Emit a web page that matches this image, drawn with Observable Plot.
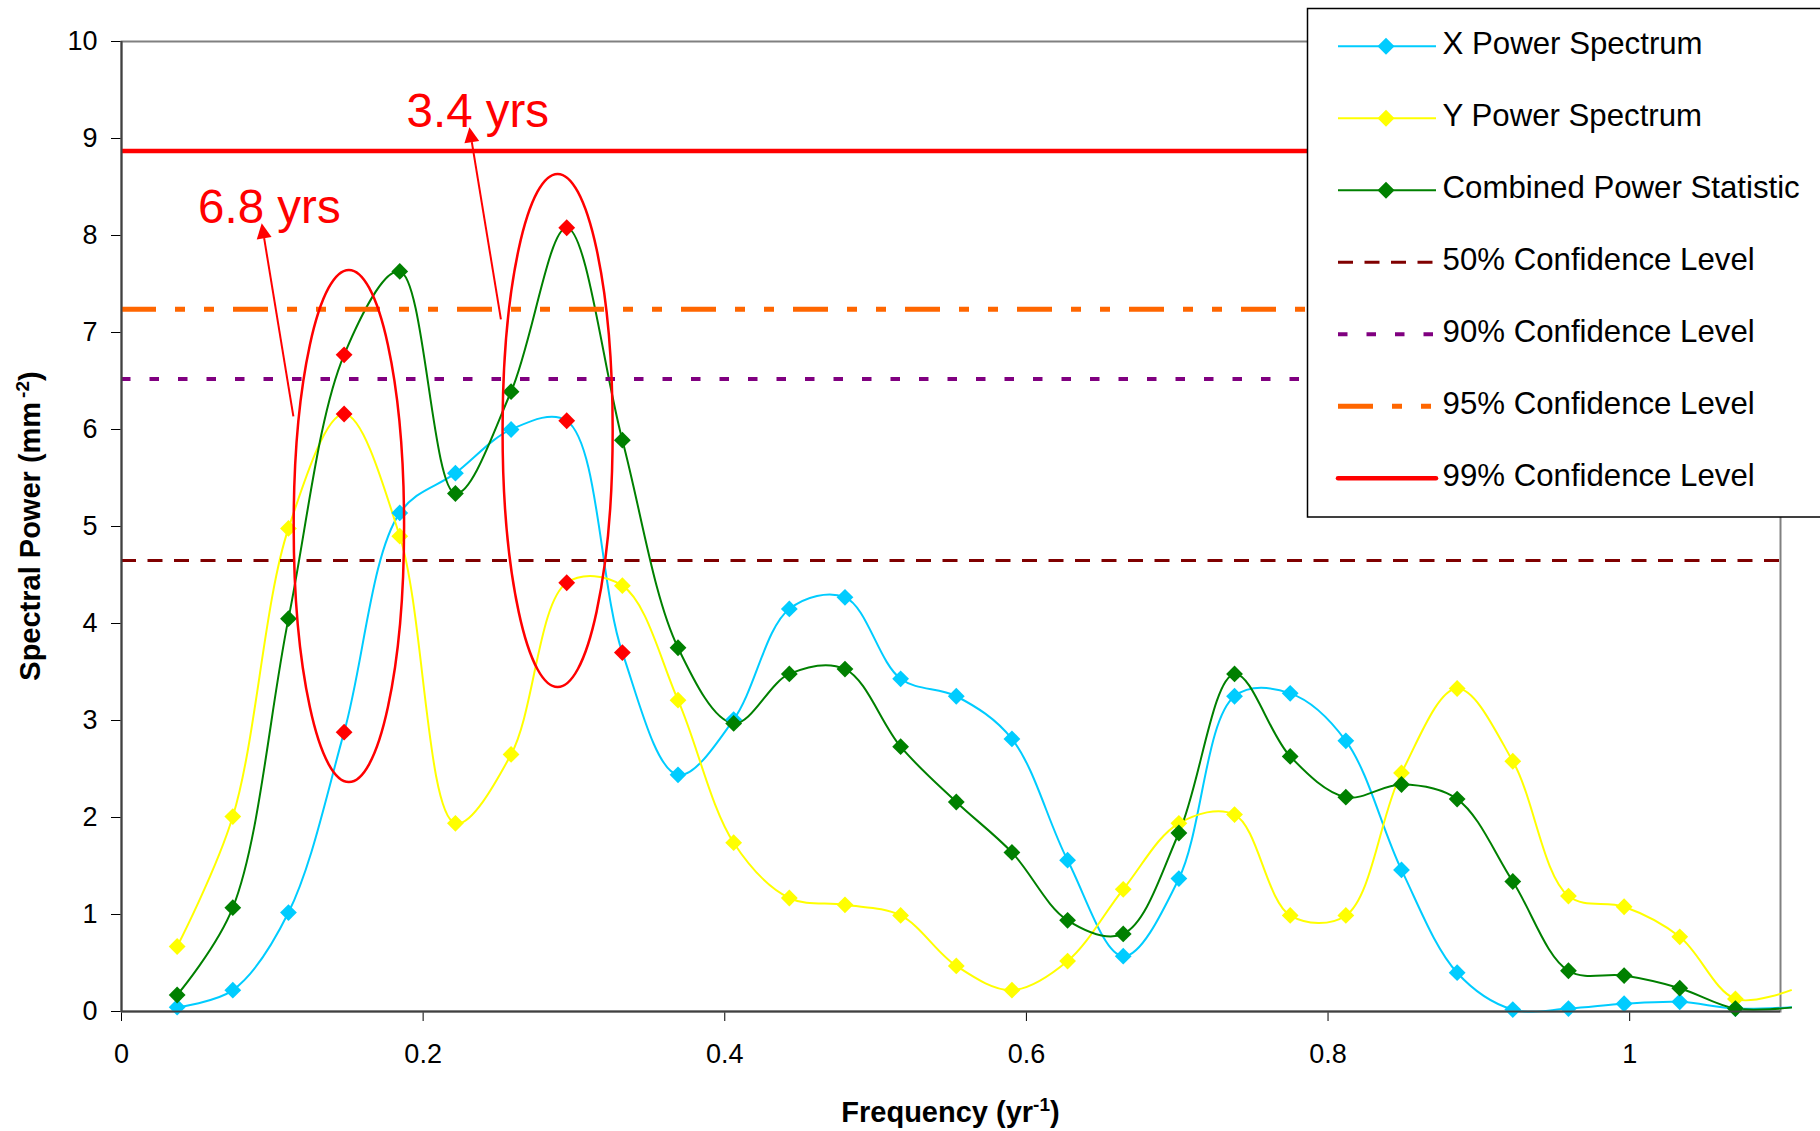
<!DOCTYPE html>
<html>
<head>
<meta charset="utf-8">
<script src="https://cdn.jsdelivr.net/npm/d3@7"></script>
<script src="https://cdn.jsdelivr.net/npm/@observablehq/plot@0.6"></script>
<style>
  html, body { margin: 0; padding: 0; background: #fff; }
  #chart svg { display: block; }
</style>
</head>
<body>
<div id="chart"></div>
<script>
// ---------- DATA ----------
const frequency = [0.0369, 0.0738, 0.1107, 0.1476, 0.1845, 0.2214, 0.2583, 0.2952, 0.3321, 0.3690,
                   0.4059, 0.4428, 0.4797, 0.5166, 0.5535, 0.5904, 0.6273, 0.6642, 0.7011, 0.7380,
                   0.7749, 0.8118, 0.8487, 0.8856, 0.9225, 0.9594, 0.9963, 1.0332, 1.0701, 1.1070];
const xPower   = [0.045, 0.22, 1.02, 2.88, 5.14, 5.55, 6.00, 6.09, 3.70, 2.44,
                  3.01, 4.15, 4.27, 3.43, 3.25, 2.81, 1.56, 0.57, 1.37, 3.25,
                  3.28, 2.79, 1.46, 0.40, 0.02, 0.03, 0.08, 0.10, 0.03, 0.045];
const yPower   = [0.67, 2.01, 4.98, 6.16, 4.90, 1.94, 2.65, 4.42, 4.39, 3.21,
                  1.74, 1.17, 1.10, 0.99, 0.47, 0.22, 0.52, 1.26, 1.94, 2.03,
                  0.99, 0.99, 2.46, 3.33, 2.58, 1.19, 1.08, 0.77, 0.13, 0.22];
const combined = [0.17, 1.07, 4.05, 6.77, 7.63, 5.34, 6.39, 8.08, 5.89, 3.75,
                  2.97, 3.48, 3.53, 2.73, 2.16, 1.64, 0.94, 0.80, 1.84, 3.48,
                  2.63, 2.21, 2.34, 2.19, 1.34, 0.42, 0.37, 0.24, 0.03, 0.04];
const seriesNames = ["X Power Spectrum", "Y Power Spectrum", "Combined Power Statistic"];
// points (1-based index) drawn with red markers
const highlightX = [4, 8, 9];
const highlightY = [4, 8];
const highlightC = [4, 8];

const confidenceNames  = ["50% Confidence Level", "90% Confidence Level", "95% Confidence Level", "99% Confidence Level"];
const confidenceValues = [4.65, 6.52, 7.24, 8.87];

const xTicks = [0, 0.2, 0.4, 0.6, 0.8, 1];
const xTickLabels = ["0", "0.2", "0.4", "0.6", "0.8", "1"];
const yTicks = [0, 1, 2, 3, 4, 5, 6, 7, 8, 9, 10];

const xTitle = "Frequency (yr";
const xTitleSup = "-1";
const yTitle = "Spectral Power (mm";
const yTitleSup = "-2";

// annotations
const labelText = ["6.8 yrs", "3.4 yrs"];
const labelX = [0.0508, 0.1890];
const labelY = [8.13, 9.12];
const arrowFromX = [0.1143, 0.2519];
const arrowFromY = [6.13, 7.13];
const arrowToX = [0.0933, 0.2310];
const arrowToY = [8.12, 9.11];
const ellipseCx = [0.1511, 0.2895];
const ellipseCy = [5.00, 5.985];
const ellipseRx = [0.0366, 0.0365];
const ellipseRy = [2.64, 2.645];

// ---------- STYLES ----------
const FONT = "'Liberation Sans', Arial, Helvetica, sans-serif";
const seriesColors = ["#00CCFF", "#FFFF00", "#008000"];
const HL = "#FF0000";
const confStyles = [
  {stroke: "#800000", width: 3,   dash: "15,11.5"},
  {stroke: "#800080", width: 4,   dash: "9.5,19"},
  {stroke: "#FF6600", width: 5,   dash: "35,19,10,19,10,19"},
  {stroke: "#FF0000", width: 4.5, dash: null}
];

const rows = frequency.map((f, i) => ({
  f, k: i + 1, x: xPower[i], y: yPower[i], c: combined[i]
}));
const markerRows = rows.filter(d => d.f <= 1.1);

const diamond = {
  draw(context, size) {
    const r = Math.sqrt(size / Math.PI);
    context.moveTo(0, -r); context.lineTo(r, 0); context.lineTo(0, r); context.lineTo(-r, 0); context.closePath();
  }
};

const seriesKeys = ["x", "y", "c"];
const highlights = [highlightX, highlightY, highlightC];

const lineMarks = seriesKeys.map((key, s) =>
  Plot.line(rows, {x: "f", y: key, stroke: seriesColors[s], strokeWidth: 2, curve: "catmull-rom"}));
const dotMarks = seriesKeys.map((key, s) =>
  Plot.dot(markerRows, {x: "f", y: key, symbol: diamond, r: 8.4, stroke: "none",
    fill: d => highlights[s].includes(d.k) ? HL : seriesColors[s]}));
const confMarks = confidenceValues.map((v, i) =>
  Plot.ruleY([v], {stroke: confStyles[i].stroke, strokeWidth: confStyles[i].width,
    strokeDasharray: confStyles[i].dash || undefined}));

function annotations(index, scales) {
  const sx = scales.x, sy = scales.y;
  const g = d3.create("svg:g");
  ellipseCx.forEach((cx, i) => {
    const x0 = sx(cx), y0 = sy(ellipseCy[i]);
    g.append("ellipse")
      .attr("cx", x0).attr("cy", y0)
      .attr("rx", Math.abs(sx(cx + ellipseRx[i]) - x0))
      .attr("ry", Math.abs(sy(ellipseCy[i] + ellipseRy[i]) - y0))
      .attr("fill", "none").attr("stroke", HL).attr("stroke-width", 2.5);
  });
  arrowFromX.forEach((fx, i) => {
    const x1 = sx(fx), y1 = sy(arrowFromY[i]), x2 = sx(arrowToX[i]), y2 = sy(arrowToY[i]);
    const len = Math.hypot(x2 - x1, y2 - y1), ux = (x2 - x1) / len, uy = (y2 - y1) / len;
    const hl = 15, hw = 7.5;
    const bx = x2 - ux * hl, by = y2 - uy * hl;
    g.append("line").attr("x1", x1).attr("y1", y1).attr("x2", bx).attr("y2", by)
      .attr("stroke", HL).attr("stroke-width", 2);
    g.append("path")
      .attr("d", `M${x2},${y2}L${bx - uy * hw},${by + ux * hw}L${bx + uy * hw},${by - ux * hw}Z`)
      .attr("fill", HL);
  });
  return g.node();
}

function axisTitles(index, scales, values, dims) {
  const {width, height, marginLeft, marginRight, marginTop, marginBottom} = dims;
  const g = d3.create("svg:g").attr("font-family", FONT).attr("font-weight", "bold")
    .attr("font-size", 29).attr("fill", "black");
  const cx = (marginLeft + width - marginRight) / 2;
  const cy = (marginTop + height - marginBottom) / 2;
  const tx = g.append("text").attr("x", cx).attr("y", 1122).attr("text-anchor", "middle");
  tx.append("tspan").text(xTitle);
  tx.append("tspan").attr("dy", -11).attr("font-size", 19).text(xTitleSup);
  tx.append("tspan").attr("dy", 11).text(")");
  const ty = g.append("text").attr("transform", `translate(40,${cy}) rotate(-90)`).attr("text-anchor", "middle");
  ty.append("tspan").text(yTitle);
  ty.append("tspan").attr("dx", 4).attr("dy", -11).attr("font-size", 19).text(yTitleSup);
  ty.append("tspan").attr("dy", 11).text(")");
  return g.node();
}

const legendItems = [
  ...seriesNames.map((n, s) => ({label: n, stroke: seriesColors[s], width: 2, dash: null, marker: true})),
  ...confidenceNames.map((n, i) => ({label: n, stroke: confStyles[i].stroke, width: confStyles[i].width,
    dash: confStyles[i].dash, marker: false}))
];

function legend() {
  const g = d3.create("svg:g").attr("font-family", FONT).attr("text-anchor", "start");
  g.append("rect").attr("x", 1307.5).attr("y", 8.5).attr("width", 620).attr("height", 508.5)
    .attr("fill", "white").attr("stroke", "black").attr("stroke-width", 1.5);
  legendItems.forEach((it, i) => {
    const y = 46.3 + i * 72;
    const ln = g.append("line").attr("x1", 1338).attr("x2", 1436).attr("y1", y).attr("y2", y)
      .attr("stroke", it.stroke).attr("stroke-width", it.width);
    if (it.dash) ln.attr("stroke-dasharray", it.dash);
    if (!it.dash && !it.marker) ln.attr("stroke-linecap", "round");
    if (it.marker) {
      g.append("path").attr("d", `M1386,${y - 8.5}L1394.5,${y}L1386,${y + 8.5}L1377.5,${y}Z`).attr("fill", it.stroke);
    }
    g.append("text").attr("x", 1442.6).attr("y", y + 8).attr("font-size", 31.2)
      .attr("text-anchor", "start").attr("fill", "black").text(it.label);
  });
  return g.node();
}

const chart = Plot.plot({
  width: 1820,
  height: 1131,
  marginLeft: 121,
  marginRight: 40,
  marginTop: 41,
  marginBottom: 120,
  style: {fontFamily: FONT, fontSize: "27px", color: "black", background: "white"},
  x: {domain: [0, 1.1], ticks: xTicks, tickFormat: d => xTickLabels[xTicks.indexOf(d)],
      tickSize: 10, tickPadding: 22, label: null},
  y: {domain: [0, 10], ticks: yTicks, tickSize: 10, tickPadding: 14, label: null},
  marks: [
    Plot.frame({stroke: "#808080", strokeWidth: 2}),
    ...lineMarks,
    ...dotMarks,
    ...confMarks,
    Plot.ruleX([0], {stroke: "#404040", strokeWidth: 2}),
    Plot.ruleY([0], {stroke: "#404040", strokeWidth: 2}),
    annotations,
    Plot.text(labelText, {x: labelX, y: labelY, text: d => d, fill: HL, fontSize: 47.5,
      textAnchor: "start", lineAnchor: "bottom"}),
    legend,
    axisTitles
  ]
});
document.getElementById("chart").appendChild(chart);
</script>
</body>
</html>
